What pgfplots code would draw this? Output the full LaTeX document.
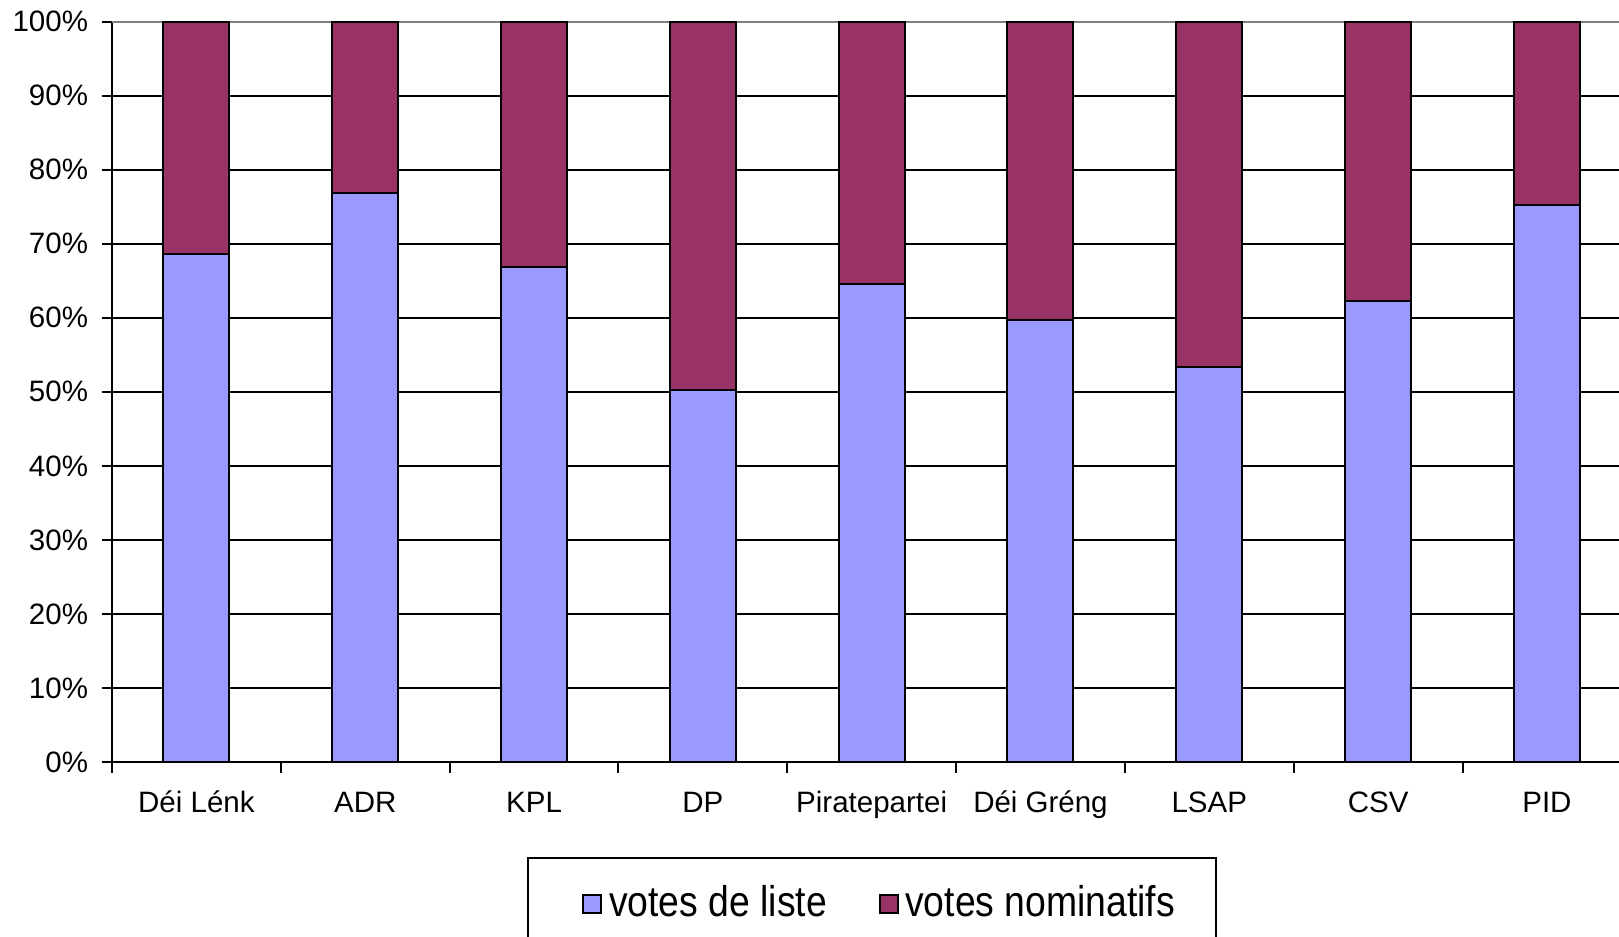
\documentclass[border=0pt]{standalone}
\usepackage{fontspec}
\setmainfont{Liberation Sans}
\usepackage{graphicx}
\usepackage{pgfplots}
\pgfplotsset{compat=1.18}
\definecolor{cblue}{HTML}{9999FF}
\definecolor{cpurple}{HTML}{993366}
\definecolor{cgray}{HTML}{808080}
\newlength{\nomw}
\begin{document}
\begin{tikzpicture}
\begin{axis}[
  at={(33.6pt,52.5pt)}, anchor=south west,
  scale only axis, width=455.8pt, height=222.1pt,
  xmin=-0.5, xmax=8.5, ymin=0, ymax=100,
  ybar stacked, bar width=19.8pt,
  axis x line*=bottom, axis y line*=left,
  axis line style={black, line width=0.6pt},
  xtick={0,...,8},
  xticklabels={Déi Lénk, ADR, KPL, DP, Piratepartei, Déi Gréng, LSAP, CSV, PID},
  minor xtick={-0.5,0.5,...,8.5},
  x tick style={draw=none},
  minor x tick style={draw=black, line width=0.6pt},
  tick align=outside,
  minor tick length=3.3pt,
  major tick length=3pt,
  y tick style={black, line width=0.6pt},
  ytick={0,10,...,90},
  yticklabels={0\%,10\%,20\%,30\%,40\%,50\%,60\%,70\%,80\%,90\%},
  extra y ticks={100},
  extra y tick labels={100\%},
  extra y tick style={major grid style={cgray, line width=0.6pt}},
  ymajorgrids,
  major grid style={black, line width=0.6pt},
  tick label style={font=\fontsize{8.85}{10}\selectfont, text=black},
  xticklabel style={anchor=base, inner sep=0pt, yshift=-12.1pt},
  yticklabel style={anchor=east, inner sep=0pt, xshift=-4pt},
  legend style={at={(0.5,0)}, anchor=north, yshift=-28.5pt,
    draw=black, line width=0.6pt,
    font=\fontsize{11.2}{13}\selectfont,
    legend columns=2,
    inner xsep=16.4pt, inner ysep=6.3pt,
    /tikz/every even column/.append style={column sep=13.5pt}},
  legend image code/.code={\draw[#1, draw=black, line width=0.6pt] (0pt,-2.7pt) rectangle (5.4pt,2.7pt);},
]
\addplot[fill=cblue, draw=black, line width=0.6pt] coordinates {
  (0,68.6) (1,76.8) (2,66.8) (3,50.3) (4,64.6) (5,59.7) (6,53.4) (7,62.3) (8,75.3)};
\addlegendentry{\scalebox{1}[1.15]{votes de liste}}
\addplot[fill=cpurple, draw=black, line width=0.6pt] coordinates {
  (0,31.4) (1,23.2) (2,33.2) (3,49.7) (4,35.4) (5,40.3) (6,46.6) (7,37.7) (8,24.7)};
\addlegendentry{\settowidth{\nomw}{votes nominatifs}\addtolength{\nomw}{-6.2pt}\makebox[\nomw][l]{\scalebox{1}[1.15]{votes nominatifs}}}
\end{axis}
\pgfresetboundingbox
\path[use as bounding box] (0,0) rectangle (485.7pt,281.1pt);
\end{tikzpicture}
\end{document}
